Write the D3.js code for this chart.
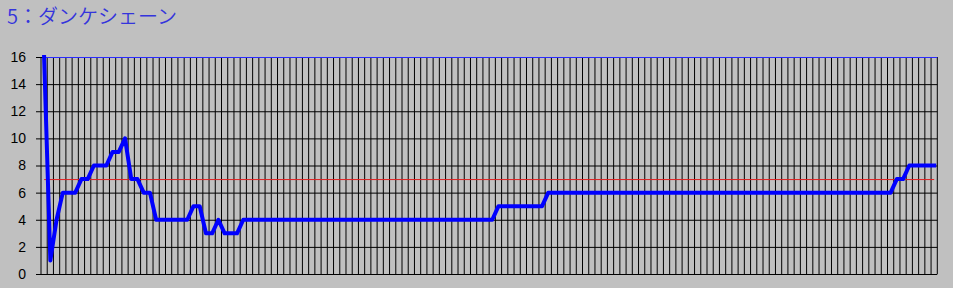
<!DOCTYPE html>
<html>
<head>
<meta charset="utf-8">
<script src="https://cdn.jsdelivr.net/npm/d3@7"></script>
<style>
  html, body { margin: 0; padding: 0; background: #c0c0c0; }
  svg { display: block; }
</style>
</head>
<body>
<svg id="chart" width="953" height="288"></svg>
<script>
const title = "5：ダンケシェーン";
const yTicks = [0, 2, 4, 6, 8, 10, 12, 14, 16];
const referenceValue = 7;
const topValue = 16;
const values = [
  16, 1, 4, 6, 6, 6, 7, 7, 8, 8, 8, 9, 9, 10, 7, 7, 6, 6, 4, 4,
  4, 4, 4, 4, 5, 5, 3, 3, 4, 3, 3, 3, 4, 4, 4, 4, 4, 4, 4, 4,
  4, 4, 4, 4, 4, 4, 4, 4, 4, 4, 4, 4, 4, 4, 4, 4, 4, 4, 4, 4,
  4, 4, 4, 4, 4, 4, 4, 4, 4, 4, 4, 4, 4, 5, 5, 5, 5, 5, 5, 5,
  5, 6, 6, 6, 6, 6, 6, 6, 6, 6, 6, 6, 6, 6, 6, 6, 6, 6, 6, 6,
  6, 6, 6, 6, 6, 6, 6, 6, 6, 6, 6, 6, 6, 6, 6, 6, 6, 6, 6, 6,
  6, 6, 6, 6, 6, 6, 6, 6, 6, 6, 6, 6, 6, 6, 6, 6, 6, 7, 7, 8,
  8, 8, 8, 8
];
const categories = values.map((_, i) => i + 1);

(function () {
const svg = d3.select("#chart");
const pLeft = 41, pRight = 937.3, pTop = 57, pBottom = 274;

const x = d3.scaleBand().domain(categories).range([pLeft, pRight]).paddingInner(0).paddingOuter(0);
const y = d3.scaleLinear().domain([0, 16]).range([pBottom, pTop]);
const cx = c => x(c) + x.bandwidth() / 2;

svg.append("text")
  .attr("x", 7).attr("y", 24)
  .attr("font-family", "'Noto Sans CJK JP', 'Noto Sans', sans-serif")
  .attr("font-size", 20)
  .attr("font-weight", 350)
  .attr("fill", "#3434dc")
  .text(title);

const grid = svg.append("g");
const bounds = categories.map(c => x(c)).concat([pRight]);
grid.selectAll("line.v").data(bounds).enter().append("line")
  .attr("x1", d => d).attr("x2", d => d)
  .attr("y1", pTop).attr("y2", pBottom)
  .attr("stroke", "#000").attr("stroke-width", 1);

grid.selectAll("line.h").data(yTicks).enter().append("line")
  .attr("x1", pLeft - 5).attr("x2", pRight)
  .attr("y1", d => y(d) + 0.5).attr("y2", d => y(d) + 0.5)
  .attr("stroke", "#000").attr("stroke-width", 1);

const yAxis = d3.axisLeft(y).tickValues(yTicks).tickSize(0).tickPadding(0);
const ag = svg.append("g").attr("transform", `translate(${pLeft - 15},0)`).call(yAxis);
ag.select(".domain").remove();
ag.selectAll("text")
  .attr("font-family", "'Liberation Sans', Arial, sans-serif")
  .attr("font-size", 14)
  .attr("fill", "#000");

svg.append("line")
  .attr("x1", cx(categories[0])).attr("x2", pRight)
  .attr("y1", y(topValue) + 0.5).attr("y2", y(topValue) + 0.5)
  .attr("stroke", "#2a2aff").attr("stroke-width", 1);

svg.append("line")
  .attr("x1", cx(categories[0])).attr("x2", cx(categories[categories.length - 1]))
  .attr("y1", y(referenceValue) + 0.5).attr("y2", y(referenceValue) + 0.5)
  .attr("stroke", "#e02020").attr("stroke-width", 1);

const line = d3.line().x((d, i) => cx(categories[i])).y(d => y(d));
svg.append("path")
  .datum(values)
  .attr("d", line)
  .attr("fill", "none")
  .attr("stroke", "#0000ff")
  .attr("stroke-width", 4)
  .attr("stroke-linejoin", "round")
  .attr("stroke-linecap", "square");
})();
</script>
</body>
</html>
